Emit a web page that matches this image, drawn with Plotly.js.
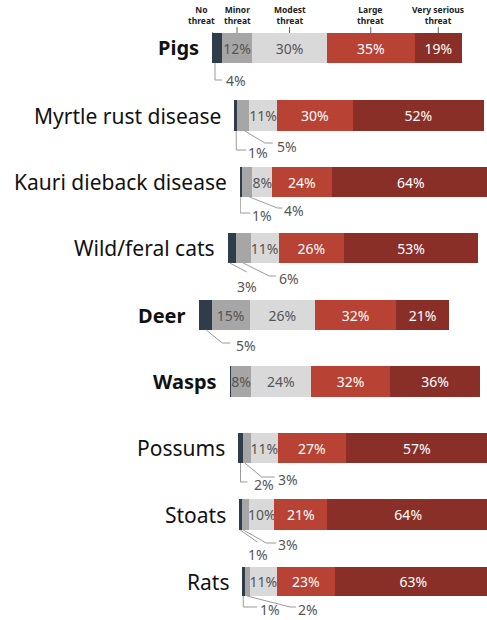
<!DOCTYPE html>
<html><head><meta charset="utf-8">
<script src="https://cdn.plot.ly/plotly-3.0.1.min.js"></script>
<style>html,body{margin:0;padding:0;background:#fff}#chart{width:487px;height:620px}</style>
</head><body><div id="chart"></div>
<script>
// ---- data ----
const categories = ['Pigs','Myrtle rust disease','Kauri dieback disease','Wild/feral cats','Deer','Wasps','Possums','Stoats','Rats'];
const seriesNames = ['No threat','Minor threat','Modest threat','Large threat','Very serious threat'];
const headerLabels = ['No<br>threat','Minor<br>threat','Modest<br>threat','Large<br>threat','Very serious<br>threat'];
const noThreat          = [4, 1, 1, 3, 5, 0.4, 2, 1, 1];
const minorThreat       = [12, 5, 4, 6, 15, 8, 3, 3, 2];
const modestThreat      = [30, 11, 8, 11, 26, 24, 11, 10, 11];
const largeThreat       = [35, 30, 24, 26, 32, 32, 27, 21, 23];
const verySeriousThreat = [19, 52, 64, 53, 21, 36, 57, 64, 63];
const boldRows = ['Pigs','Deer','Wasps'];

// ---- layout / style ----
const W = 487, H = 620, BARW = 250;
const series = [noThreat, minorThreat, modestThreat, largeThreat, verySeriousThreat];
const colors = ['#2f3d4b','#a6a6a6','#d9d9d9','#b84233','#8a2f28'];
const textColors = ['#555555','#555555','#555555','#ffffff','#ffffff'];
// [left px, top px, bottom px] of each row's bar
const rowBox = [[212,33,63],[234,100,131],[240,167,197],[228,233,263],[199,300,330],[230,366,397],[238,433,463],[239,499,530],[242,567,596]];
// leader lines for small values: s = segment index, p = polyline (px, y down) from segment centre at bar bottom
const leaders = {
  0: [{s:0, p:[[-2,0],[-2,17],[5,17]], dx:8, dy:18}],
  1: [{s:0, p:[[1,0],[1,19],[11,19]], dx:12, dy:21}, {s:1, p:[[2,0],[22,12],[30,12]], dx:33, dy:15}],
  2: [{s:0, p:[[-1,0],[-1,16],[9,16]], dx:10, dy:18}, {s:1, p:[[2,0],[30,11],[35,11]], dx:36, dy:13}],
  3: [{s:0, p:[[-2,0],[15,9]], dx:4, dy:23}, {s:1, p:[[0,0],[26,13],[33,13]], dx:35, dy:15}],
  4: [{s:0, p:[[1,0],[17,13],[25,13]], dx:30, dy:15}],
  6: [{s:0, p:[[0,0],[0,19],[7,19]], dx:12, dy:21}, {s:1, p:[[-2,0],[15,14],[28,14]], dx:30, dy:16}],
  7: [{s:0, p:[[0,0],[17,12]], dx:7, dy:24}, {s:1, p:[[-2,0],[21,13],[31,13]], dx:32, dy:14}],
  8: [{s:0, p:[[0,0],[0,11],[14,11]], dx:16, dy:13}, {s:1, p:[[0,0],[43,11],[49,11]], dx:50, dy:13}]
};

const traces = [], shapes = [], annotations = [];
const layout = {
  width: W, height: H, margin: {l:0, r:0, t:0, b:0},
  paper_bgcolor: '#ffffff', plot_bgcolor: 'rgba(0,0,0,0)',
  barmode: 'stack', bargap: 0, showlegend: false,
  font: {family: 'Noto Sans, sans-serif', color: '#555'},
  shapes: shapes, annotations: annotations
};

function pathStr(p){ return p.map((pt,j)=> (j===0?'M ':'L ') + pt[0] + ',' + (-pt[1])).join(' '); }

categories.forEach((cat, i) => {
  const n = i + 1;
  const xa = n === 1 ? 'x' : 'x' + n;
  const ya = n === 1 ? 'y' : 'y' + n;
  const [left, top, bottom] = rowBox[i];
  const total = series.reduce((s, arr) => s + arr[i], 0);
  layout[n === 1 ? 'xaxis' : 'xaxis' + n] = {domain: [left / W, 1], range: [0, total * (W - left) / BARW], visible: false, fixedrange: true};
  layout[n === 1 ? 'yaxis' : 'yaxis' + n] = {domain: [1 - bottom / H, 1 - top / H], range: [-0.5, 0.5], visible: false, fixedrange: true, type: 'category'};

  const centers = [];
  let cum = 0;
  series.forEach((arr, k) => {
    const v = arr[i];
    centers.push(cum + v / 2);
    cum += v;
    traces.push({
      type: 'bar', orientation: 'h', x: [v], y: [cat], xaxis: xa, yaxis: ya,
      name: seriesNames[k], marker: {color: colors[k], line: {width: 0}},
      text: [v >= 8 ? v + '%' : ''], textposition: 'inside', insidetextanchor: 'middle',
      constraintext: 'none', textangle: 0,
      textfont: {family: 'Noto Sans, sans-serif', size: 14, color: textColors[k]},
      hoverinfo: 'skip', showlegend: false
    });
  });

  // row label
  const bold = boldRows.includes(cat);
  annotations.push({
    xref: xa, yref: ya + ' domain', x: 0, y: 0.5, xanchor: 'right', yanchor: 'middle',
    xshift: -11, text: bold ? '<b>' + cat + '</b>' : cat, showarrow: false,
    font: {family: 'Noto Sans, sans-serif', size: bold ? 20 : 21, color: '#111111'}
  });

  // leader labels
  (leaders[i] || []).forEach(l => {
    const v = series[l.s][i];
    shapes.push({
      type: 'path', xref: xa, yref: ya + ' domain', xsizemode: 'pixel', ysizemode: 'pixel',
      xanchor: centers[l.s], yanchor: 0, path: pathStr(l.p),
      line: {color: '#9a9a9a', width: 1}, layer: 'above'
    });
    annotations.push({
      xref: xa, yref: ya + ' domain', x: centers[l.s], y: 0, xanchor: 'left', yanchor: 'middle',
      xshift: l.dx, yshift: -l.dy, text: v + '%', showarrow: false, borderpad: 0,
      font: {family: 'Noto Sans, sans-serif', size: 14, color: '#555555'}
    });
  });

  // header over the first row
  if (i === 0) {
    headerLabels.forEach((lab, k) => {
      const xs = k === 0 ? -16 : 0;
      shapes.push({
        type: 'path', xref: xa, yref: ya + ' domain', xsizemode: 'pixel', ysizemode: 'pixel',
        xanchor: centers[k], yanchor: 1,
        path: k === 0 ? 'M -4,0 L -17,5' : 'M 0,0 L 0,6',
        line: {color: '#666666', width: 1}, layer: 'above'
      });
      annotations.push({
        xref: xa, yref: ya + ' domain', x: centers[k], y: 1, xanchor: 'center', yanchor: 'bottom',
        xshift: xs, yshift: 6, text: '<b>' + lab + '</b>', showarrow: false, borderpad: 0,
        font: {family: 'Noto Sans, sans-serif', size: 8.5, color: '#222222'}
      });
    });
  }
});

Plotly.newPlot('chart', traces, layout, {displayModeBar: false, staticPlot: true});
</script>
</body></html>
